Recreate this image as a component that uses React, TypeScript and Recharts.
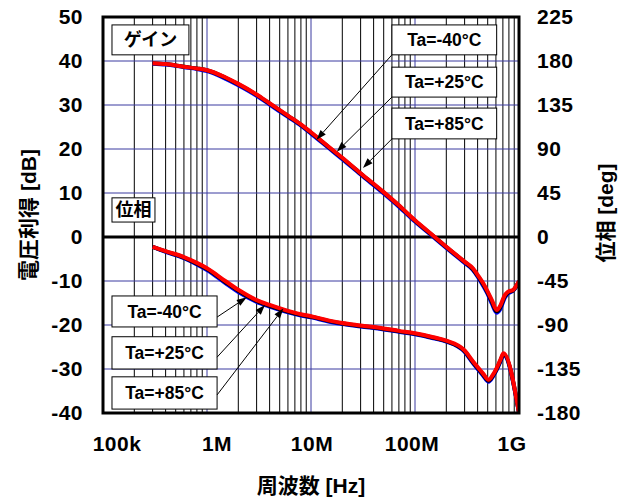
import React from 'react'
import { ComposedChart, Line, XAxis, YAxis, ReferenceLine } from 'recharts'

// frequency axis
const freqTicks = [1e5, 1e6, 1e7, 1e8, 1e9]
const freqTickLabels = ['100k', '1M', '10M', '100M', '1G']

// left axis: voltage gain [dB], right axis: phase [deg]
const gainTicks = [-40, -30, -20, -10, 0, 10, 20, 30, 40, 50]
const phaseTicks = [-180, -135, -90, -45, 0, 45, 90, 135, 180, 225]

const tempLabels = ['Ta=-40°C', 'Ta=+25°C', 'Ta=+85°C']

// gain vs frequency
const gainFreq = [
  3e5, 4e5, 6e5, 8e5, 1e6, 1.5e6, 2e6, 3e6, 4e6, 6e6, 8e6, 1e7, 1.5e7, 2e7, 3e7, 5e7, 7e7,
  1e8, 1.5e8, 2e8, 3e8, 3.6e8, 4e8, 4.5e8, 5e8, 5.5e8, 6.1e8, 6.6e8, 7.3e8, 7.9e8, 8.8e8, 9.3e8, 1e9,
]
const gainM40 = [
  39.4, 39.2, 38.6, 38.2, 37.7, 36.0, 34.5, 32.1, 30.1, 27.3, 25.3, 23.5, 20.1, 17.7, 14.2, 9.9, 6.9,
  3.5, 0.0, -2.5, -5.9, -7.5, -9.0, -11.0, -13.0, -15.2, -17.2, -16.4, -13.8, -12.8, -12.2, -11.5, -10.2,
]
const gainP25 = [
  39.5, 39.3, 38.7, 38.3, 37.9, 36.2, 34.7, 32.3, 30.3, 27.5, 25.5, 23.7, 20.3, 17.9, 14.4, 10.1, 7.1,
  3.7, 0.2, -2.3, -5.7, -7.3, -8.8, -10.7, -12.7, -14.8, -16.9, -16.0, -13.5, -12.6, -12.1, -11.4, -10.1,
]
const gainP85 = [
  39.5, 39.3, 38.7, 38.3, 37.9, 36.3, 34.8, 32.4, 30.4, 27.6, 25.6, 23.8, 20.4, 18.0, 14.5, 10.2, 7.2,
  3.8, 0.3, -2.2, -5.6, -7.1, -8.6, -10.4, -12.4, -14.4, -16.6, -15.6, -13.2, -12.4, -12.0, -11.3, -10.0,
]

// phase vs frequency
const phaseFreq = [
  3e5, 4e5, 6e5, 8e5, 1e6, 1.5e6, 2e6, 3e6, 4e6, 6e6, 8e6, 1e7, 1.5e7, 2e7, 3e7, 5e7, 7e7,
  1e8, 1.5e8, 2e8, 3e8, 3.6e8, 4e8, 4.5e8, 5.1e8, 5.6e8, 6.1e8, 6.6e8, 7.1e8, 1e9,
]
const phaseM40 = [
  -10.2, -15.2, -21.6, -28, -33.8, -47.2, -56.3, -66.3, -71.2, -77, -80.3, -82.2, -86.6, -89, -91.5, -94.5, -97,
  -99.5, -103.6, -107, -117.6, -129, -135, -141.5, -148, -143, -136, -128, -121, -180,
]
const phaseP25 = [
  -10, -14.8, -21, -27.2, -32.8, -46, -55, -65.3, -70.3, -76.2, -79.6, -81.6, -86, -88.5, -91, -94, -96.5,
  -99, -103, -106.5, -116.8, -128, -134, -140.5, -147, -142, -135, -127, -120, -180,
]
const phaseP85 = [
  -10, -14.5, -20.5, -26.5, -32, -45, -54, -64.5, -69.5, -75.5, -79, -81, -85.5, -88, -90.5, -93.5, -96,
  -98.5, -102.5, -106, -116, -127, -133, -139.5, -146, -141, -134, -126, -119, -180,
]

const toRows = (fs: number[], vs: number[]) => fs.map((f, i) => ({ f, v: vs[i] }))

const seriesColors = ['#0000ff', '#000000', '#ff0000']
const gainSeries = [gainM40, gainP25, gainP85].map((vs, i) => ({
  name: tempLabels[i],
  rows: toRows(gainFreq, vs),
  color: seriesColors[i],
}))
const phaseSeries = [phaseM40, phaseP25, phaseP85].map((vs, i) => ({
  name: tempLabels[i],
  rows: toRows(phaseFreq, vs),
  color: seriesColors[i],
}))

// log grid: blue decades, black 2..9 minors
const decadeLines = [1e6, 1e7, 1e8]
const minorLines: number[] = []
for (const d of [1e5, 1e6, 1e7, 1e8]) {
  for (let k = 2; k <= 9; k++) minorLines.push(k * d)
}
const gridBlue = '#3a3aa0'

// callout boxes (in axis units) and their arrows
const gainCallouts = [
  { box: [6.0e7, 6.1e8, 41.4, 48.2], tail: [6.0e7, 41.4], tip: [1.13e7, 22.1] },
  { box: [6.0e7, 6.1e8, 31.8, 38.6], tail: [6.0e7, 31.8], tip: [1.77e7, 19.4] },
  { box: [6.0e7, 6.1e8, 22.3, 29.3], tail: [6.0e7, 22.3], tip: [3.16e7, 15.7] },
]
const phaseCallouts = [
  { box: [1.22e5, 1.25e6, -92, -60.3], tail: [1.25e6, -81.9], tip: [2.41e6, -61.7] },
  { box: [1.22e5, 1.25e6, -135, -102], tail: [1.25e6, -122.9], tip: [3.61e6, -69.5] },
  { box: [1.22e5, 1.25e6, -176, -143], tail: [1.25e6, -161.5], tip: [5.42e6, -73] },
]

const FONT = '"Liberation Sans", Arial, "Noto Sans CJK JP", sans-serif'

function Arrow(props: any) {
  const { x1, y1, x2, y2 } = props
  const a = Math.atan2(y2 - y1, x2 - x1)
  const len = 10
  const half = 3.5
  const bx = x2 - len * Math.cos(a)
  const by = y2 - len * Math.sin(a)
  const px = half * Math.sin(a)
  const py = -half * Math.cos(a)
  return (
    <g>
      <line x1={x1} y1={y1} x2={bx} y2={by} stroke="#000" strokeWidth={1} />
      <polygon points={`${x2},${y2} ${bx + px},${by + py} ${bx - px},${by - py}`} fill="#000" />
    </g>
  )
}

// white text box spanning the segment's two corners
const textBox = (text: string, size = 18) => (p: any) => {
  const x = Math.min(p.x1, p.x2)
  const y = Math.min(p.y1, p.y2)
  const w = Math.abs(p.x2 - p.x1)
  const h = Math.abs(p.y2 - p.y1)
  return (
    <g>
      <rect x={x} y={y} width={w} height={h} fill="#fff" stroke="#000" strokeWidth={1} />
      <text
        x={x + w / 2}
        y={y + h / 2}
        dy="0.36em"
        textAnchor="middle"
        fontSize={size}
        fontWeight="bold"
        fontFamily={FONT}
        fill="#000"
      >
        {text}
      </text>
    </g>
  )
}

function Frame(p: any) {
  const x = Math.min(p.x1, p.x2)
  const y = Math.min(p.y1, p.y2)
  return (
    <rect x={x} y={y} width={Math.abs(p.x2 - p.x1)} height={Math.abs(p.y2 - p.y1)} fill="none" stroke="#000" strokeWidth={3} />
  )
}

const labelNudge = [14, 10, 1, -3, -7]

function FreqTick(props: any) {
  const { x, y, payload } = props
  const i = freqTicks.indexOf(payload.value)
  return (
    <text
      x={x + (labelNudge[i] ?? 0)}
      y={y}
      dy="0.71em"
      textAnchor="middle"
      fontSize={21}
      letterSpacing={0.5}
      fontWeight="bold"
      fill="#000"
    >
      {freqTickLabels[i]}
    </text>
  )
}

const axisTitle = (text: string, dx: number, dy: number, rotate: boolean) => (p: any) => {
  const vb = p.viewBox
  const cx = vb.x + dx
  const cy = vb.y + dy
  return (
    <text
      x={cx}
      y={cy}
      dy="0.36em"
      textAnchor="middle"
      fontSize={21}
      fontWeight="bold"
      fill="#000"
      transform={rotate ? `rotate(-90 ${cx} ${cy})` : undefined}
    >
      {text}
    </text>
  )
}

export default function App() {
  const tickStyle = { fill: '#000', fontSize: 21, fontWeight: 'bold', letterSpacing: 0.5 }
  return (
    <div style={{ width: 631, height: 499, fontFamily: FONT, background: '#fff' }}>
      <style>{'body{margin:0}'}</style>
      <ComposedChart width={631} height={499} margin={{ top: 17, right: 0, bottom: 0, left: 0 }}>
        <XAxis
          dataKey="f"
          type="number"
          scale="log"
          domain={[1e5, 1e9]}
          ticks={freqTicks}
          interval={0}
          allowDataOverflow
          height={86}
          axisLine={false}
          tickLine={false}
          tickSize={0}
          tickMargin={23}
          tick={<FreqTick />}
          label={axisTitle('周波数 [Hz]', 208, 72, false)}
        />
        <YAxis
          yAxisId="gain"
          orientation="left"
          type="number"
          domain={[-40, 50]}
          ticks={gainTicks}
          interval={0}
          allowDataOverflow
          width={103}
          axisLine={false}
          tickLine={false}
          tickSize={0}
          tickMargin={20}
          tick={tickStyle}
          label={axisTitle('電圧利得 [dB]', 28, 198, true)}
        />
        <YAxis
          yAxisId="phase"
          orientation="right"
          type="number"
          domain={[-180, 225]}
          ticks={phaseTicks}
          interval={0}
          allowDataOverflow
          width={112}
          axisLine={false}
          tickLine={false}
          tickSize={0}
          tickMargin={18}
          tick={{ ...tickStyle, textAnchor: 'start' }}
          label={axisTitle('位相 [deg]', 86, 196, true)}
        />

        {minorLines.map((f) => (
          <ReferenceLine key={`m${f}`} yAxisId="gain" x={f} stroke="#000" strokeWidth={1} />
        ))}
        {decadeLines.map((f) => (
          <ReferenceLine key={`d${f}`} yAxisId="gain" x={f} stroke={gridBlue} strokeWidth={1} />
        ))}
        {gainTicks
          .filter((t) => t !== 0 && t !== -40 && t !== 50)
          .map((t) => (
            <ReferenceLine key={`h${t}`} yAxisId="gain" y={t} stroke={gridBlue} strokeWidth={1} />
          ))}
        <ReferenceLine yAxisId="gain" y={0} stroke="#000" strokeWidth={3} />

        {gainSeries.map((s) => (
          <Line
            key={`g${s.name}`}
            yAxisId="gain"
            data={s.rows}
            dataKey="v"
            name={s.name}
            type="monotone"
            stroke={s.color}
            strokeWidth={4}
            strokeLinejoin="round"
            dot={false}
            activeDot={false}
            isAnimationActive={false}
          />
        ))}
        {phaseSeries.map((s) => (
          <Line
            key={`p${s.name}`}
            yAxisId="phase"
            data={s.rows}
            dataKey="v"
            name={s.name}
            type="monotone"
            stroke={s.color}
            strokeWidth={4}
            strokeLinejoin="round"
            dot={false}
            activeDot={false}
            isAnimationActive={false}
          />
        ))}

        {/* section tags */}
        <ReferenceLine
          yAxisId="gain"
          segment={[
            { x: 1.22e5, y: 48.2 },
            { x: 6.7e5, y: 41.4 },
          ]}
          shape={textBox('ゲイン')}
        />
        <ReferenceLine
          yAxisId="gain"
          segment={[
            { x: 1.22e5, y: 8.9 },
            { x: 3.16e5, y: 3.4 },
          ]}
          shape={textBox('位相')}
        />

        {gainCallouts.map((c, i) => (
          <ReferenceLine
            key={`gb${i}`}
            yAxisId="gain"
            segment={[
              { x: c.box[0], y: c.box[3] },
              { x: c.box[1], y: c.box[2] },
            ]}
            shape={textBox(tempLabels[i], 17.5)}
          />
        ))}
        {gainCallouts.map((c, i) => (
          <ReferenceLine
            key={`ga${i}`}
            yAxisId="gain"
            segment={[
              { x: c.tail[0], y: c.tail[1] },
              { x: c.tip[0], y: c.tip[1] },
            ]}
            shape={Arrow}
          />
        ))}
        {phaseCallouts.map((c, i) => (
          <ReferenceLine
            key={`pb${i}`}
            yAxisId="phase"
            segment={[
              { x: c.box[0], y: c.box[3] },
              { x: c.box[1], y: c.box[2] },
            ]}
            shape={textBox(tempLabels[i], 17.5)}
          />
        ))}
        {phaseCallouts.map((c, i) => (
          <ReferenceLine
            key={`pa${i}`}
            yAxisId="phase"
            segment={[
              { x: c.tail[0], y: c.tail[1] },
              { x: c.tip[0], y: c.tip[1] },
            ]}
            shape={Arrow}
          />
        ))}

        {/* plot frame */}
        <ReferenceLine
          yAxisId="gain"
          segment={[
            { x: 1e5, y: 50 },
            { x: 1e9, y: -40 },
          ]}
          shape={Frame}
        />
      </ComposedChart>
    </div>
  )
}
